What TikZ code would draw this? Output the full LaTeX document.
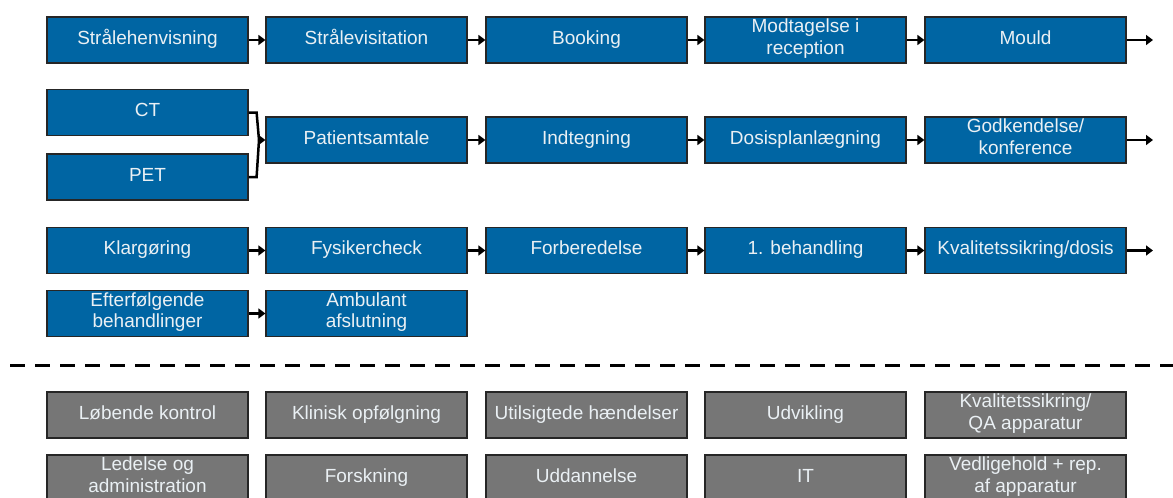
\documentclass[tikz,border=0pt]{standalone}
\usepackage{fontspec}
\setmainfont{Liberation Sans}
\usetikzlibrary{arrows.meta}
\definecolor{stepblue}{HTML}{0065A3}
\definecolor{taskgray}{HTML}{767676}
\definecolor{boxtext}{HTML}{EAF0F4}
\tikzset{
  box/.style = {draw = black!85, line width = 1.2pt, minimum width = 201pt, minimum height = 46pt,
    inner sep = 0pt, align = center, text = boxtext, font = \fontsize{19}{21.5}\selectfont,
    execute at begin node = \strut, execute at end node = \strut},
  stepbox/.style = {box, fill = stepblue},
  taskbox/.style = {box, fill = taskgray},
  link/.style = {line width = 2.5pt, line join = miter},
  flow/.style = {link, -{Triangle[length = 7pt, width = 10pt]}},
  divider/.style = {line width = 3pt, dash pattern = on 15pt off 10pt}
}
\begin{document}
\begin{tikzpicture}[x = 1pt, y = -1pt]
\useasboundingbox[fill = white] (0, 0) rectangle (1173, 498);
\node[stepbox] (henvisning) at (147.5, 40) {Strålehenvisning};
\node[stepbox] (visitation) at (366.5, 40) {Strålevisitation};
\node[stepbox] (booking) at (586.5, 40) {Booking};
\node[stepbox] (modtagelse) at (805.5, 40) {Modtagelse i\\reception};
\node[stepbox] (mould) at (1025.5, 40) {Mould};
\coordinate (mouldout) at (1153, 40);
\node[stepbox] (ct) at (147.5, 112.5) {CT};
\node[stepbox] (pet) at (147.5, 177) {PET};
\node[stepbox] (samtale) at (366.5, 140) {Patientsamtale};
\node[stepbox] (indtegning) at (586.5, 140) {Indtegning};
\node[stepbox] (dosisplan) at (805.5, 140) {Dosisplanlægning};
\node[stepbox] (godkendelse) at (1025.5, 140) {Godkendelse/\\konference};
\coordinate (merge) at (259, 140);
\coordinate (godkendout) at (1153, 140);
\node[stepbox] (klargoring) at (147.5, 250.5) {Klargøring};
\node[stepbox] (fysiker) at (366.5, 250.5) {Fysikercheck};
\node[stepbox] (forberedelse) at (586.5, 250.5) {Forberedelse};
\node[stepbox] (behandling) at (805.5, 250.5) {1. behandling};
\node[stepbox] (kvalitet) at (1025.5, 250.5) {Kvalitetssikring/dosis};
\coordinate (kvalitetout) at (1153, 250.5);
\node[stepbox] (efterfolgende) at (147.5, 313.5) {Efterfølgende\\behandlinger};
\node[stepbox] (afslutning) at (366.5, 313.5) {Ambulant\\afslutning};
\draw[flow] (henvisning) -- (visitation);
\draw[flow] (visitation) -- (booking);
\draw[flow] (booking) -- (modtagelse);
\draw[flow] (modtagelse) -- (mould);
\draw[flow] (mould) -- (mouldout);
\draw[link] (ct.east) -- ++(8, 0) -- (merge);
\draw[link] (pet.east) -- ++(8, 0) -- (merge);
\draw[flow] (merge) -- (samtale.west);
\draw[flow] (samtale) -- (indtegning);
\draw[flow] (indtegning) -- (dosisplan);
\draw[flow] (dosisplan) -- (godkendelse);
\draw[flow] (godkendelse) -- (godkendout);
\draw[flow] (klargoring) -- (fysiker);
\draw[flow] (fysiker) -- (forberedelse);
\draw[flow] (forberedelse) -- (behandling);
\draw[flow] (behandling) -- (kvalitet);
\draw[flow] (kvalitet) -- (kvalitetout);
\draw[flow] (efterfolgende) -- (afslutning);
\coordinate (sepleft) at (10, 365);
\coordinate (sepright) at (1173, 365);
\draw[divider] (sepleft) -- (sepright);
\node[taskbox] (kontrol) at (147.5, 415) {Løbende kontrol};
\node[taskbox] (opfolgning) at (366.5, 415) {Klinisk opfølgning};
\node[taskbox] (haendelser) at (586.5, 415) {Utilsigtede hændelser};
\node[taskbox] (udvikling) at (805.5, 415) {Udvikling};
\node[taskbox] (qa) at (1025.5, 415) {Kvalitetssikring/\\QA apparatur};
\node[taskbox] (ledelse) at (147.5, 478) {Ledelse og\\administration};
\node[taskbox] (forskning) at (366.5, 478) {Forskning};
\node[taskbox] (uddannelse) at (586.5, 478) {Uddannelse};
\node[taskbox] (it) at (805.5, 478) {IT};
\node[taskbox] (vedligehold) at (1025.5, 478) {Vedligehold + rep.\\af apparatur};
\end{tikzpicture}
\end{document}
